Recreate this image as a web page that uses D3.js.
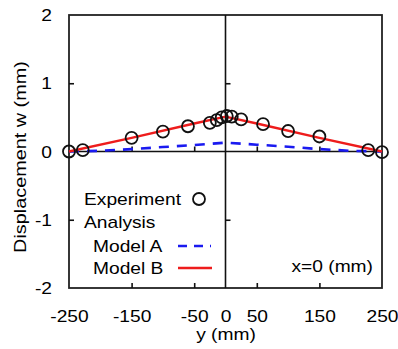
<!DOCTYPE html>
<html><head><meta charset="utf-8">
<script src="https://cdn.jsdelivr.net/npm/d3@7"></script>
<style>
html,body{margin:0;padding:0;background:#fff;}
text{font-family:"Liberation Sans",Arial,sans-serif;font-size:16px;fill:#000;}
</style></head>
<body><svg id="c" width="398" height="349"></svg>
<script>
// ---- data ----
const xTicks = [-250, -150, -50, 0, 50, 150, 250];
const yTicks = [-2, -1, 0, 1, 2];
const expY = [-250, -228, -150, -100, -60, -25, -14, -6, 2, 10, 25, 60, 100, 150, 228, 250];
const expW = [0, 0.02, 0.2, 0.29, 0.37, 0.42, 0.46, 0.5, 0.52, 0.51, 0.47, 0.4, 0.3, 0.22, 0.02, -0.01];
const modelAY = [-250, -200, -150, -100, -50, 0, 50, 100, 150, 200, 250];
const modelAW = [0, 0.01, 0.035, 0.065, 0.095, 0.13, 0.1, 0.07, 0.035, 0.01, 0];
const modelBY = [-250, -150, -50, 0, 50, 150, 250];
const modelBW = [0, 0.2, 0.41, 0.51, 0.41, 0.2, 0];

const SX = 1.2;
const svg = d3.select("#c");
const L = 69, R = 382, T = 15, B = 288;
const x = d3.scaleLinear().domain([-250, 250]).range([L, R]);
const y = d3.scaleLinear().domain([-2, 2]).range([B, T]);

// frame
svg.append("rect").attr("x", L).attr("y", T).attr("width", R - L).attr("height", B - T)
  .attr("fill", "none").attr("stroke", "#222").attr("stroke-width", 1.8);

// zero lines
svg.append("line").attr("x1", L).attr("x2", R).attr("y1", y(0)).attr("y2", y(0))
  .attr("stroke", "#111").attr("stroke-width", 1.6);
svg.append("line").attr("x1", x(0)).attr("x2", x(0)).attr("y1", T).attr("y2", B)
  .attr("stroke", "#111").attr("stroke-width", 1.6);

// inward ticks
function tickAxis(axis, tx, ty) {
  const g = svg.append("g").attr("transform", `translate(${tx},${ty})`).call(axis);
  g.select(".domain").remove();
  g.selectAll("text").remove();
  g.selectAll("line").attr("stroke", "#111").attr("stroke-width", 1.6);
}
const minorX = [-150, -50, 50, 150];
tickAxis(d3.axisBottom(x).tickValues(minorX).tickSize(-5).tickFormat(""), 0, B);
tickAxis(d3.axisBottom(x).tickValues(minorX).tickSize(-5).tickFormat(""), 0, y(0));
tickAxis(d3.axisLeft(y).tickValues([-1, 1]).tickSize(-5).tickFormat(""), L, 0);
tickAxis(d3.axisLeft(y).tickValues([-1, 1]).tickSize(-5).tickFormat(""), x(0), 0);

// tick labels
const xl = svg.append("g").attr("transform", `translate(0,${B})`)
  .call(d3.axisBottom(x).tickValues(xTicks).tickSize(0).tickFormat(d => d));
xl.select(".domain").remove();
xl.selectAll("text").attr("y", 0).attr("dy", 34).attr("font-size", 16)
  .attr("font-family", "Liberation Sans, Arial, sans-serif").attr("fill", "#000")
  .attr("transform", `scale(${SX},1)`);
const yl = svg.append("g").attr("transform", `translate(${L},0)`)
  .call(d3.axisLeft(y).tickValues(yTicks).tickSize(0).tickFormat(d => d));
yl.select(".domain").remove();
yl.selectAll("text").attr("x", -17 / SX).attr("dy", "0.35em").attr("font-size", 16)
  .attr("font-family", "Liberation Sans, Arial, sans-serif").attr("fill", "#000")
  .attr("transform", `scale(${SX},1)`);

// axis titles
svg.append("text").attr("transform", `translate(226,340) scale(${SX},1)`)
  .attr("text-anchor", "middle").text("y (mm)");
svg.append("text").attr("transform", `translate(26,157) rotate(-90) scale(1.24,1)`)
  .attr("text-anchor", "middle").text("Displacement  w (mm)");

// model lines
const lineA = d3.line().x((d, i) => x(modelAY[i])).y(d => y(d));
svg.append("path").datum(modelAW).attr("d", lineA).attr("fill", "none")
  .attr("stroke", "#1a1af0").attr("stroke-width", 2.6).attr("stroke-dasharray", "10,8");
const lineB = d3.line().x((d, i) => x(modelBY[i])).y(d => y(d));
svg.append("path").datum(modelBW).attr("d", lineB).attr("fill", "none")
  .attr("stroke", "#ee1c1c").attr("stroke-width", 2.4);

// experiment circles
svg.append("g").selectAll("circle").data(expW).join("circle")
  .attr("cx", (d, i) => x(expY[i])).attr("cy", d => y(d)).attr("r", 6)
  .attr("fill", "none").attr("stroke", "#111").attr("stroke-width", 1.8);

// legend
function ltext(tx, ty, s, anchor) {
  svg.append("text").attr("transform", `translate(${tx},${ty}) scale(${SX},1)`)
    .attr("text-anchor", anchor || "start").attr("dy", "0.35em").text(s);
}
ltext(84, 199, "Experiment");
svg.append("circle").attr("cx", 199).attr("cy", 199).attr("r", 6)
  .attr("fill", "none").attr("stroke", "#111").attr("stroke-width", 1.8);
ltext(84, 222, "Analysis");
ltext(93, 246, "Model A");
svg.append("line").attr("x1", 178).attr("x2", 211).attr("y1", 246).attr("y2", 246)
  .attr("stroke", "#1a1af0").attr("stroke-width", 2.6).attr("stroke-dasharray", "9,7");
ltext(93, 268, "Model B");
svg.append("line").attr("x1", 178).attr("x2", 212).attr("y1", 268).attr("y2", 268)
  .attr("stroke", "#ee1c1c").attr("stroke-width", 2.4);
ltext(373, 266, "x=0 (mm)", "end");
</script></body></html>
